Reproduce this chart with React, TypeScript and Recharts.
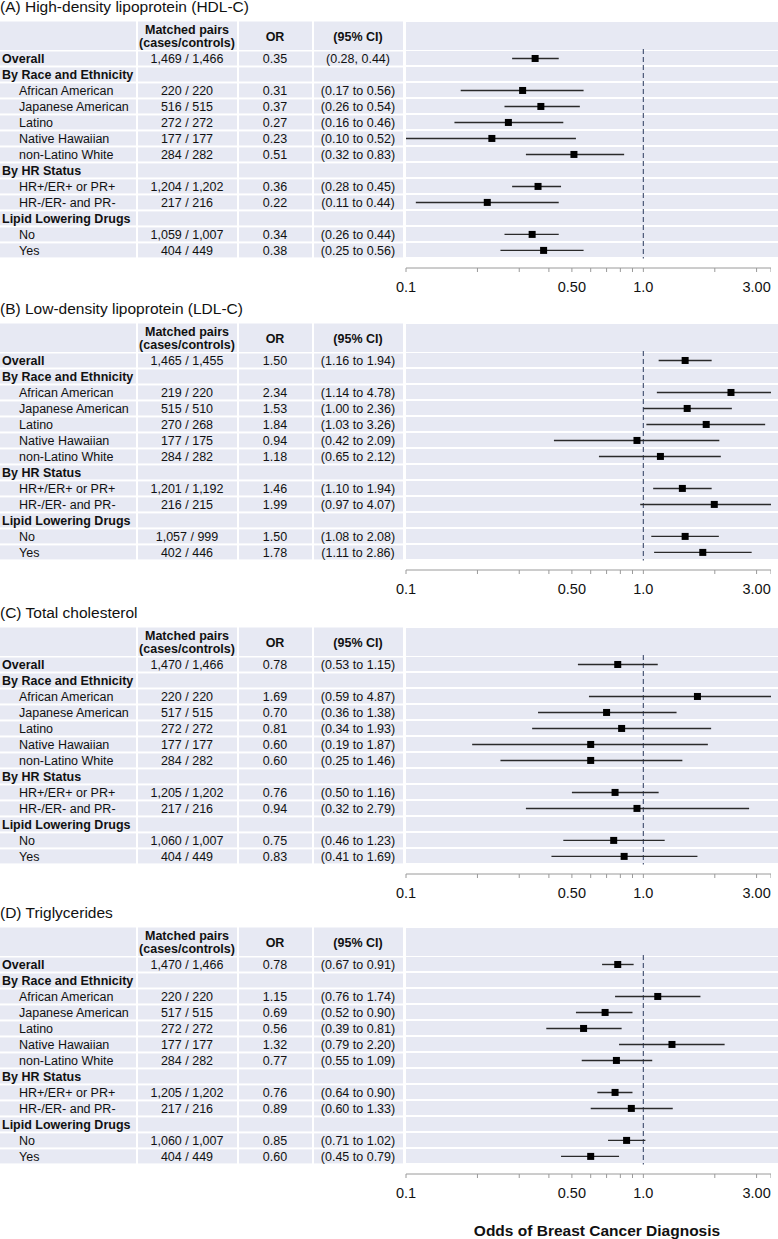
import { ComposedChart, ErrorBar, ReferenceLine, Scatter, XAxis, YAxis } from "recharts";

// table rows (shared by all four panels)
const rowLabels = [
  "Overall",
  "By Race and Ethnicity",
  "African American",
  "Japanese American",
  "Latino",
  "Native Hawaiian",
  "non-Latino White",
  "By HR Status",
  "HR+/ER+ or PR+",
  "HR-/ER- and PR-",
  "Lipid Lowering Drugs",
  "No",
  "Yes",
];
const boldRows = [0, 1, 7, 10];
const dataRows = [0, 2, 3, 4, 5, 6, 8, 9, 11, 12];

// (A) HDL-C
const hdlPairs = ["1,469 / 1,466", "220 / 220", "516 / 515", "272 / 272", "177 / 177", "284 / 282", "1,204 / 1,202", "217 / 216", "1,059 / 1,007", "404 / 449"];
const hdlOr = [0.35, 0.31, 0.37, 0.27, 0.23, 0.51, 0.36, 0.22, 0.34, 0.38];
const hdlLo = [0.28, 0.17, 0.26, 0.16, 0.1, 0.32, 0.28, 0.11, 0.26, 0.25];
const hdlHi = [0.44, 0.56, 0.54, 0.46, 0.52, 0.83, 0.45, 0.44, 0.44, 0.56];

// (B) LDL-C
const ldlPairs = ["1,465 / 1,455", "219 / 220", "515 / 510", "270 / 268", "177 / 175", "284 / 282", "1,201 / 1,192", "216 / 215", "1,057 / 999", "402 / 446"];
const ldlOr = [1.5, 2.34, 1.53, 1.84, 0.94, 1.18, 1.46, 1.99, 1.5, 1.78];
const ldlLo = [1.16, 1.14, 1.0, 1.03, 0.42, 0.65, 1.1, 0.97, 1.08, 1.11];
const ldlHi = [1.94, 4.78, 2.36, 3.26, 2.09, 2.12, 1.94, 4.07, 2.08, 2.86];

// (C) Total cholesterol
const tcPairs = ["1,470 / 1,466", "220 / 220", "517 / 515", "272 / 272", "177 / 177", "284 / 282", "1,205 / 1,202", "217 / 216", "1,060 / 1,007", "404 / 449"];
const tcOr = [0.78, 1.69, 0.7, 0.81, 0.6, 0.6, 0.76, 0.94, 0.75, 0.83];
const tcLo = [0.53, 0.59, 0.36, 0.34, 0.19, 0.25, 0.5, 0.32, 0.46, 0.41];
const tcHi = [1.15, 4.87, 1.38, 1.93, 1.87, 1.46, 1.16, 2.79, 1.23, 1.69];

// (D) Triglycerides
const tgPairs = ["1,470 / 1,466", "220 / 220", "517 / 515", "272 / 272", "177 / 177", "284 / 282", "1,205 / 1,202", "217 / 216", "1,060 / 1,007", "404 / 449"];
const tgOr = [0.78, 1.15, 0.69, 0.56, 1.32, 0.77, 0.76, 0.89, 0.85, 0.6];
const tgLo = [0.67, 0.76, 0.52, 0.39, 0.79, 0.55, 0.64, 0.6, 0.71, 0.45];
const tgHi = [0.91, 1.74, 0.9, 0.81, 2.2, 1.09, 0.9, 1.33, 1.02, 0.79];

const axisTicks = [0.1, 0.2, 0.3, 0.4, 0.5, 0.6, 0.7, 0.8, 0.9, 1, 2, 3, 3.45];
const tickLabelValues = [0.1, 0.5, 1, 3];
const tickLabels = ["0.1", "0.50", "1.0", "3.00"];

const font = "'Liberation Sans', Arial, sans-serif";
const cellBg = "#e7e9f3";
const tableCols: [number, number][] = [
  [0, 136],
  [138, 237],
  [239, 312],
  [314, 403],
];
const plotCol: [number, number] = [406, 778];
const HEADER_TICK = -1.42;
const HEADER_H = 28.5;
const ROW_H = 14;

// vertical layout of a panel: y domain [-2.5, 13.1] mapped into the plot area
const PLOT_TOP = 18.5;
const RIGHT_GAP = 7;
const X_AXIS_H = 34;
const PANEL_H = 302;
const Y_DOMAIN: [number, number] = [-2.5, 13.1];
const UNIT = (PANEL_H - PLOT_TOP - X_AXIS_H) / (Y_DOMAIN[1] - Y_DOMAIN[0]);
const rowY = (v: number) => PLOT_TOP + (v - Y_DOMAIN[0]) * UNIT;

type Panel = {
  title: string;
  pairs: string[];
  or: number[];
  lo: number[];
  hi: number[];
  overallSep: string;
};

const panels: Panel[] = [
  { title: "(A) High-density lipoprotein (HDL-C)", pairs: hdlPairs, or: hdlOr, lo: hdlLo, hi: hdlHi, overallSep: ", " },
  { title: "(B) Low-density lipoprotein (LDL-C)", pairs: ldlPairs, or: ldlOr, lo: ldlLo, hi: ldlHi, overallSep: " to " },
  { title: "(C) Total cholesterol", pairs: tcPairs, or: tcOr, lo: tcLo, hi: tcHi, overallSep: " to " },
  { title: "(D) Triglycerides", pairs: tgPairs, or: tgOr, lo: tgLo, hi: tgHi, overallSep: " to " },
];
const panelTops = [0, 302, 606, 906];

function RowTick(props: any) {
  const { y, payload, panel } = props as { y: number; payload: { value: number }; panel: Panel };
  const v = payload.value;
  if (v < 0) {
    const h = HEADER_H;
    return (
      <g fontFamily={font} fontSize={12.5} fontWeight="bold" fill="#111">
        {tableCols.map(([a, b], i) => (
          <rect key={i} x={a} y={y - h / 2} width={b - a} height={h} fill={cellBg} />
        ))}
        <text x={187} y={y - 6} textAnchor="middle" dominantBaseline="central">Matched pairs</text>
        <text x={187} y={y + 7.5} textAnchor="middle" dominantBaseline="central">(cases/controls)</text>
        <text x={275} y={y + 1} textAnchor="middle" dominantBaseline="central">OR</text>
        <text x={358} y={y + 1} textAnchor="middle" dominantBaseline="central">(95% CI)</text>
      </g>
    );
  }
  const bold = boldRows.includes(v);
  const k = dataRows.indexOf(v);
  const h = ROW_H;
  const ci =
    k >= 0
      ? `(${panel.lo[k].toFixed(2)}${k === 0 ? panel.overallSep : " to "}${panel.hi[k].toFixed(2)})`
      : "";
  return (
    <g fontFamily={font} fontSize={12.5} fill="#111">
      {tableCols.map(([a, b], i) => (
        <rect key={i} x={a} y={y - h / 2} width={b - a} height={h} fill={cellBg} />
      ))}
      <text x={bold ? 2 : 19} y={y + 0.5} dominantBaseline="central" fontWeight={bold ? "bold" : "normal"}>
        {rowLabels[v]}
      </text>
      {k >= 0 ? (
        <>
          <text x={187} y={y + 0.5} textAnchor="middle" dominantBaseline="central">{panel.pairs[k]}</text>
          <text x={275} y={y + 0.5} textAnchor="middle" dominantBaseline="central">{panel.or[k].toFixed(2)}</text>
          <text x={358} y={y + 0.5} textAnchor="middle" dominantBaseline="central">{ci}</text>
        </>
      ) : null}
    </g>
  );
}

function OddsTick(props: any) {
  const { x, y, payload } = props;
  const i = tickLabelValues.indexOf(payload.value);
  if (i < 0) return <g />;
  return (
    <text x={x} y={y + 13} textAnchor="middle" dominantBaseline="central" fontFamily={font} fontSize={14.5} fill="#111">
      {tickLabels[i]}
    </text>
  );
}

function Square(props: any) {
  const { cx, cy } = props;
  return <rect x={cx - 3.5} y={cy - 3.5} width={7} height={7} fill="#000" />;
}

// light cells behind the plotting column (drawn under the svg)
function PlotCells() {
  const cells = [
    { top: rowY(HEADER_TICK) - HEADER_H / 2, h: HEADER_H },
    ...rowLabels.map((_, i) => ({ top: rowY(i) - ROW_H / 2, h: ROW_H })),
  ];
  return (
    <>
      {cells.map((c, i) => (
        <div
          key={i}
          style={{
            position: "absolute",
            left: plotCol[0],
            width: plotCol[1] - plotCol[0],
            top: c.top,
            height: c.h,
            background: cellBg,
          }}
        />
      ))}
    </>
  );
}

function ForestPanel({ panel, last }: { panel: Panel; last: boolean }) {
  const data = dataRows.map((r, k) => ({
    row: r,
    or: panel.or[k],
    err: [panel.or[k] - panel.lo[k], panel.hi[k] - panel.or[k]],
  }));
  const extra = last ? 32 : 0;
  const height = PANEL_H + extra;
  return (
    <div style={{ position: "relative", width: 778, height }}>
      <PlotCells />
      <div
        style={{
          position: "absolute",
          left: 0,
          top: -2,
          fontFamily: font,
          fontSize: 15.5,
          lineHeight: "18px",
          color: "#111",
          whiteSpace: "nowrap",
        }}
      >
        {panel.title}
      </div>
      <ComposedChart
        width={778}
        height={height}
        data={data}
        margin={{ top: PLOT_TOP, right: RIGHT_GAP, bottom: extra, left: 0 }}
        style={{ clipPath: `inset(0 ${RIGHT_GAP}px 0 0)` }}
      >
        <YAxis
          type="number"
          dataKey="row"
          domain={Y_DOMAIN}
          reversed
          allowDataOverflow
          ticks={[HEADER_TICK, 0, 1, 2, 3, 4, 5, 6, 7, 8, 9, 10, 11, 12]}
          interval={0}
          axisLine={false}
          tickLine={false}
          width={406}
          tick={(p: any) => <RowTick {...p} panel={panel} />}
        />
        <XAxis
          type="number"
          dataKey="or"
          scale="log"
          domain={[0.1, 3.45]}
          allowDataOverflow
          ticks={axisTicks}
          interval={0}
          height={X_AXIS_H}
          tickSize={4}
          tickMargin={2}
          axisLine={{ stroke: "#9a9a9a" }}
          tickLine={{ stroke: "#9a9a9a" }}
          tick={<OddsTick />}
        />
        <ReferenceLine
          segment={[
            { x: 1, y: -0.6 },
            { x: 1, y: 12.5 },
          ]}
          stroke="#4a5877"
          strokeDasharray="5 3"
          strokeWidth={1.2}
        />
        <Scatter data={data} shape={<Square />} isAnimationActive={false}>
          <ErrorBar dataKey="err" direction="x" width={0} stroke="#2a2a2a" strokeWidth={1.4} isAnimationActive={false} />
        </Scatter>
      </ComposedChart>
      {last ? (
        <div
          style={{
            position: "absolute",
            left: 397,
            width: 400,
            top: 316,
            textAlign: "center",
            fontFamily: font,
            fontWeight: "bold",
            fontSize: 15.5,
            lineHeight: "18px",
            color: "#111",
          }}
        >
          Odds of Breast Cancer Diagnosis
        </div>
      ) : null}
    </div>
  );
}

export default function App() {
  return (
    <div style={{ position: "absolute", left: 0, top: 0, width: 778, height: 1239, background: "#fff" }}>
      {panels.map((p, i) => (
        <div key={p.title} style={{ position: "absolute", left: 0, top: panelTops[i] }}>
          <ForestPanel panel={p} last={i === panels.length - 1} />
        </div>
      ))}
    </div>
  );
}
